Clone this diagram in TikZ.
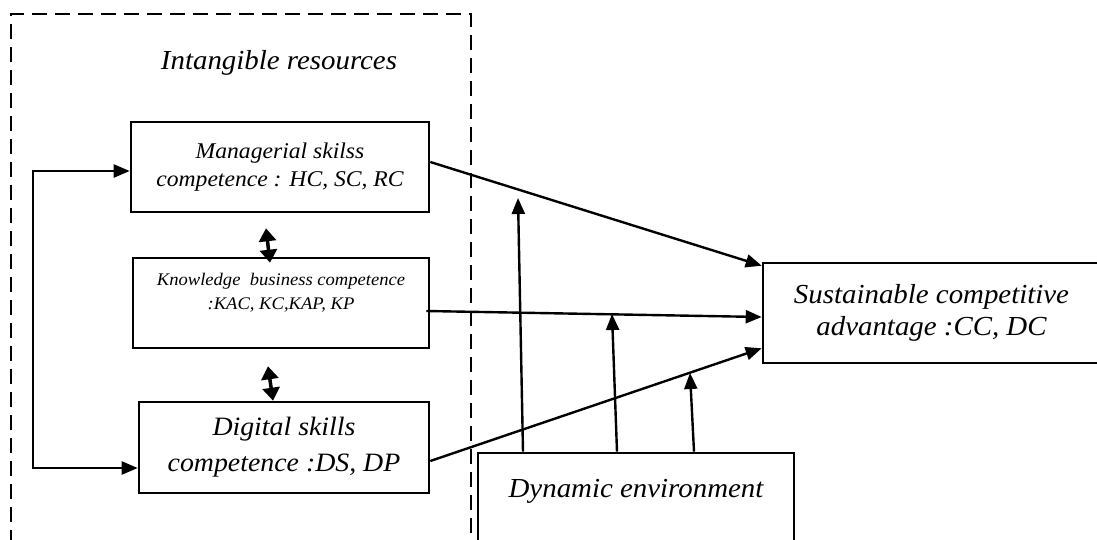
\documentclass[tikz,border=0pt]{standalone}
\usepackage{fontspec}
\setmainfont{Liberation Serif}[FakeStretch=1.05]
\usetikzlibrary{arrows.meta}
\begin{document}
\begin{tikzpicture}[x=1pt,y=-1pt,>={Triangle[length=16pt,width=13pt]},
  box/.style={draw,line width=2.6pt,align=center,inner sep=0pt},
  arr/.style={line width=2.4pt,->},
  darr/.style={line width=3.5pt,{Triangle[length=13pt,width=17pt]}-{Triangle[length=13pt,width=17pt]}}]
  \clip (0,0) rectangle (1097,539);
  \draw[line width=2.4pt,dash pattern=on 15pt off 8pt] (11,545) -- (11,14) -- (471,14) -- (471,545);
  \node[font=\fontsize{27.5}{32}\selectfont\itshape] (ir) at (279,63) {Intangible resources};
  \node[box,minimum width=298pt,minimum height=90pt,font=\fontsize{22.5}{28}\selectfont\itshape] (mgr) at (280,167) {Managerial skilss\\competence : HC, SC, RC};
  \node[box,minimum width=296pt,minimum height=90pt,font=\fontsize{17.7}{24}\selectfont\itshape] (knw) at (281,303) {Knowledge~ business competence\\:KAC, KC,KAP, KP\\ \mbox{}};
  \node[box,minimum width=290pt,minimum height=91pt,font=\fontsize{26.5}{36}\selectfont\itshape] (dig) at (284,447.5) {Digital skills\\competence :DS, DP};
  \node[box,minimum width=337pt,minimum height=100pt,font=\fontsize{27.5}{32}\selectfont\itshape] (sca) at (931.5,313) {Sustainable competitive\\advantage :CC, DC};
  \node[box,minimum width=316pt,text height=20pt,text depth=80pt,inner ysep=24pt,anchor=base,font=\fontsize{27.5}{32}\selectfont\itshape] (dyn) at (636,497) {Dynamic environment};
  \coordinate (t1) at (518,198);
  \coordinate (t2) at (612,314);
  \coordinate (t3) at (690,373);
  \draw[arr] ([yshift=5pt]mgr.east) -- ([yshift=-4pt]sca.north west);
  \draw[arr] ([xshift=-4pt,yshift=-8pt]knw.east) -- ([yshift=-4pt]sca.west);
  \draw[arr] ([yshift=-13.5pt]dig.east) -- ([yshift=16pt]sca.south west);
  \draw[arr] ([xshift=-113pt]dyn.north) -- (t1);
  \draw[arr] ([xshift=-19pt]dyn.north) -- (t2);
  \draw[arr] ([xshift=58pt]dyn.north) -- (t3);
  \draw[arr,<->] ([yshift=-4pt]mgr.west) -- ++(-97,0) |- ([yshift=-20.5pt]dig.west);
  \draw[darr] ([xshift=-14pt,yshift=-15pt]mgr.south) -- ([xshift=-11pt,yshift=-6pt]knw.north);
  \draw[darr] ([xshift=-13pt,yshift=-17pt]knw.south) -- ([xshift=-11pt]dig.north);
\end{tikzpicture}
\end{document}
